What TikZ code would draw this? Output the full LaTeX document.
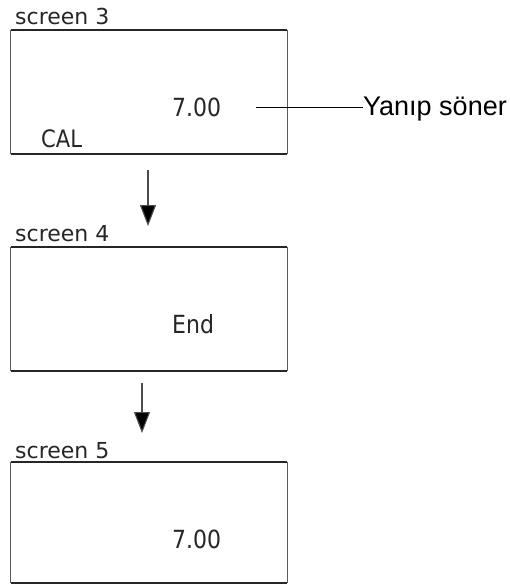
\documentclass[tikz,border=0pt]{standalone}
\usepackage{graphicx}
\usepackage{fontspec}
\setmainfont{DejaVu Sans}
\newfontfamily\arialf{Liberation Sans}
\usetikzlibrary{arrows.meta}
\newcommand{\narrowtxt}[1]{\scalebox{0.88}[1]{#1}}
\begin{document}
\begin{tikzpicture}[x=1pt,y=-1pt,
  scr/.style={minimum width=276pt, minimum height=124pt, inner sep=0pt, draw=none},
  hedge/.style={line width=2pt, draw=black!85},
  vedge/.style={line width=1pt, draw=black!65},
  ttl/.style={anchor=base west, inner sep=0pt, font=\fontsize{22}{24}\selectfont, text=black!85},
  val/.style={anchor=base west, inner sep=0pt, font=\fontsize{25}{27}\selectfont, text=black!85},
  flow/.style={line width=1.1pt, draw=black!70, -{Triangle[length=21pt,width=16pt,fill=black]}},
  pointer/.style={line width=0.9pt, draw=black}
]
\useasboundingbox (0,0) rectangle (509,585);

% screen 3
\node[scr] (b3) at (149,92) {};
\draw[hedge] (b3.north west) -- (b3.north east);
\draw[hedge] (b3.south west) -- (b3.south east);
\draw[vedge] (b3.north west) -- (b3.south west);
\draw[vedge] (b3.north east) -- (b3.south east);
\node[ttl] (t3) at (15,25) {screen 3};
\node[val] (v3) at (172,117) {\narrowtxt{7.00}};
\node[val, font=\fontsize{24}{26}\selectfont] (cal) at (41,148) {\narrowtxt{CAL}};

% pointer
\coordinate (p3) at (256,107);
\node[anchor=base west, inner sep=0pt, font=\arialf\fontsize{27}{30}\selectfont] (blink) at (363,116) {Yanıp söner};
\draw[pointer] (p3) -- (p3 -| blink.west);

% arrow 1
\coordinate (a1s) at (148,170);
\coordinate (a1e) at (148,226);
\draw[flow] (a1s) -- (a1e);

% screen 4
\node[scr] (b4) at (149,309) {};
\draw[hedge] (b4.north west) -- (b4.north east);
\draw[hedge] (b4.south west) -- (b4.south east);
\draw[vedge] (b4.north west) -- (b4.south west);
\draw[vedge] (b4.north east) -- (b4.south east);
\node[ttl] (t4) at (15,241) {screen 4};
\node[val] (v4) at (172,333) {\narrowtxt{End}};

% arrow 2
\coordinate (a2s) at (142,383);
\coordinate (a2e) at (142,433);
\draw[flow] (a2s) -- (a2e);

% screen 5
\node[scr, minimum height=121pt] (b5) at (149,522.5) {};
\draw[hedge] (b5.north west) -- (b5.north east);
\draw[hedge] (b5.south west) -- (b5.south east);
\draw[vedge] (b5.north west) -- (b5.south west);
\draw[vedge] (b5.north east) -- (b5.south east);
\node[ttl] (t5) at (15,458) {screen 5};
\node[val] (v5) at (172,548) {\narrowtxt{7.00}};
\end{tikzpicture}
\end{document}
